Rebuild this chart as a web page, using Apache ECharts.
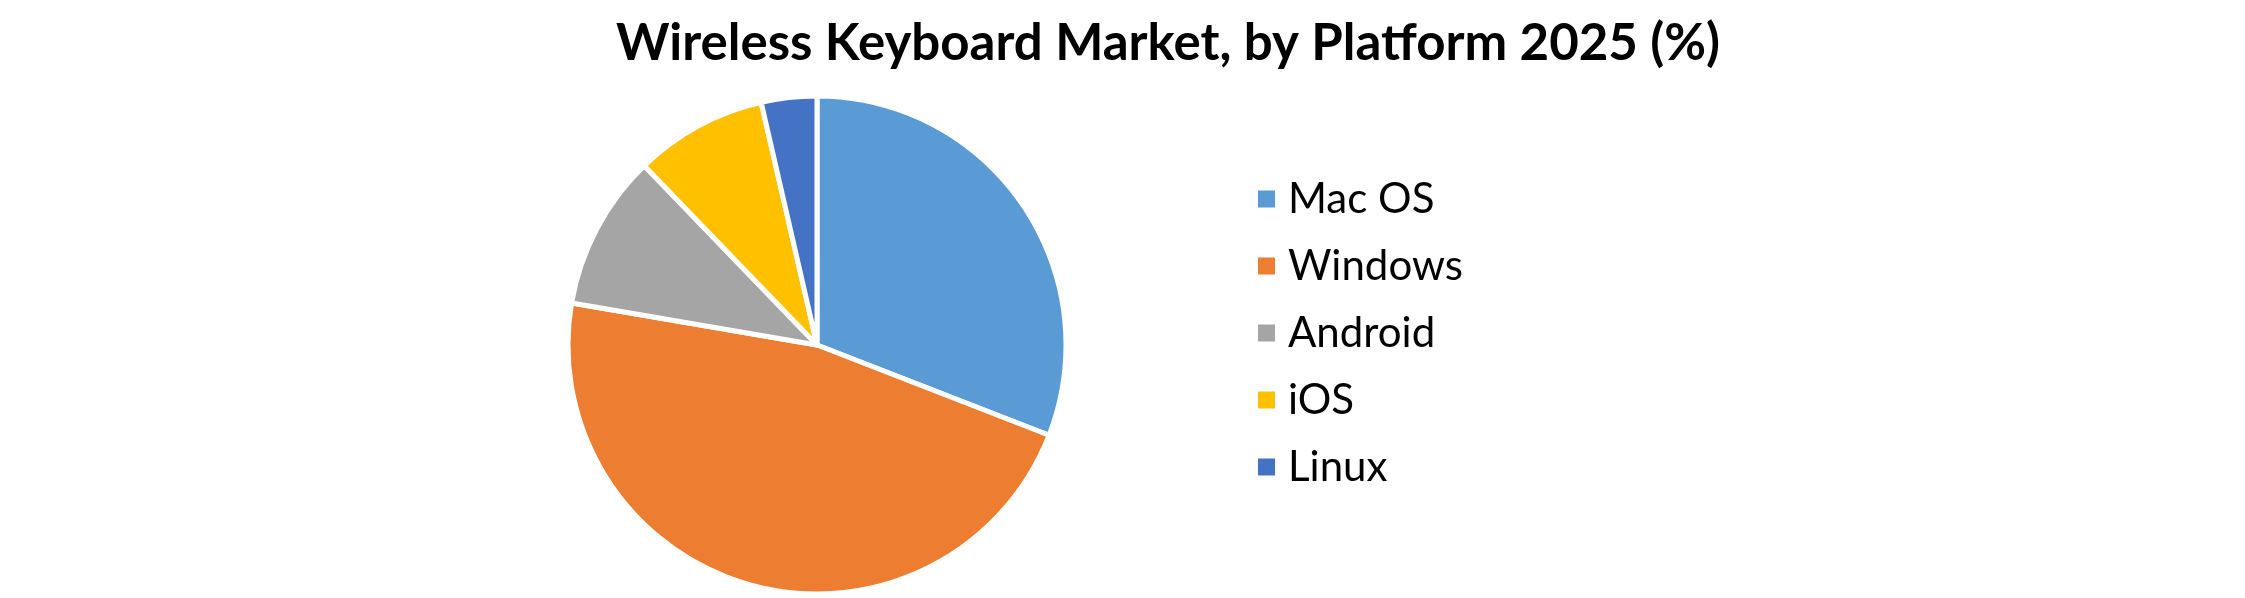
<!DOCTYPE html>
<html>
<head>
<meta charset="utf-8">
<script src="https://cdn.jsdelivr.net/npm/echarts@6/dist/echarts.min.js"></script>
<style>html,body{margin:0;padding:0;background:#fff}#c{width:2245px;height:598px}</style>
</head>
<body>
<div id="c"></div>
<script>
const titleText = 'Wireless Keyboard Market, by Platform 2025 (%)';
const categories = ['Mac OS', 'Windows', 'Android', 'iOS', 'Linux'];
const values = [30.9, 46.8, 10.1, 8.6, 3.6];
const colors = ['#5B9BD5', '#ED7D31', '#A5A5A5', '#FFC000', '#4472C4'];

const chart = echarts.init(document.getElementById('c'), null, {renderer: 'canvas'});
chart.setOption({
  animation: false,
  backgroundColor: '#ffffff',
  color: colors,
  title: {
    text: titleText,
    left: 1163, textAlign: 'center',
    top: 13,
    textStyle: {fontFamily: 'Lato', fontWeight: 'bold', fontSize: 51, color: '#000'}
  },
  legend: {
    orient: 'vertical',
    left: 1251, top: 171,
    itemWidth: 19, itemHeight: 19,
    itemGap: 21,
    icon: 'rect',
    data: categories,
    textStyle: {fontFamily: 'Lato', fontSize: 42, color: '#000', lineHeight: 46, padding: [0, 0, 0, 7]}
  },
  series: [{
    type: 'pie',
    center: [817, 345],
    radius: 249,
    startAngle: 90,
    clockwise: true,
    label: {show: false},
    labelLine: {show: false},
    itemStyle: {borderColor: '#fff', borderWidth: 5},
    data: categories.map((n, i) => ({name: n, value: values[i]}))
  }]
});
</script>
</body>
</html>
